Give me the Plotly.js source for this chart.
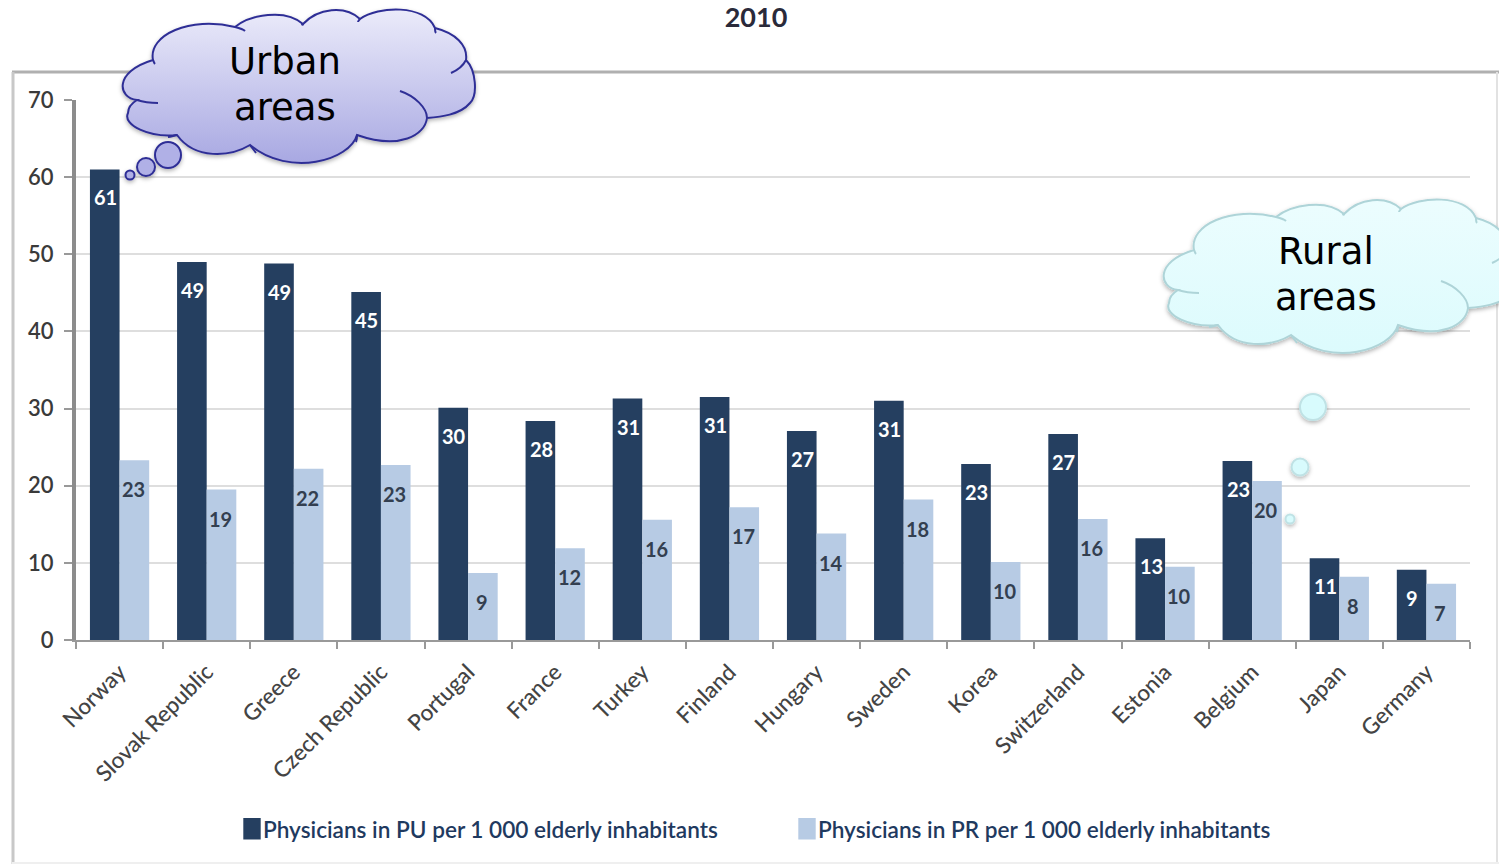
<!DOCTYPE html>
<html><head><meta charset="utf-8">
<script src="https://cdn.plot.ly/plotly-3.0.1.min.js"></script>
<style>html,body{margin:0;padding:0;background:#fff;overflow:hidden}#c{width:1499px;height:864px}</style>
</head><body><div id="c"></div>
<script>
var countries=["Norway","Slovak Republic","Greece","Czech Republic","Portugal","France","Turkey","Finland","Hungary","Sweden","Korea","Switzerland","Estonia","Belgium","Japan","Germany"];
var urbanValues=[61,49,48.8,45.1,30.1,28.4,31.3,31.5,27.1,31,22.8,26.7,13.2,23.2,10.6,9.1];
var ruralValues=[23.3,19.5,22.2,22.7,8.7,11.9,15.6,17.2,13.8,18.2,10.1,15.7,9.5,20.6,8.2,7.3];
var urbanLabels=["61","49","49","45","30","28","31","31","27","31","23","27","13","23","11","9"];
var ruralLabels=["23","19","22","23","9","12","16","17","14","18","10","16","10","20","8","7"];
var urbanName="Physicians in PU per 1 000 elderly inhabitants";
var ruralName="Physicians in PR per 1 000 elderly inhabitants";
var yTicks=[0,10,20,30,40,50,60,70];

var W=1499,H=864,L=76,R=1470,T=100,B=640;
function px(x){return (x-L)/(R-L);}
function py(y){return (B-y)/(B-T);}
var sans="Lato, 'Open Sans', sans-serif";
var cloudPath="M153 60C148 35 190 16 235 27C250 15 285 8 303 24C318 8 345 5 360 19C378 6 425 4 435 28C455 33 468 45 466 60C476 70 478 95 470 103C460 115 440 117 427 118C425 135 400 150 357 135C350 160 290 178 250 145C230 157 195 160 177 135C150 138 122 125 128 113C128 108 132 103 137 100C118 98 113 72 153 60Z";
var folds="M153 60C154 62 154 63 155 64M137 100C143 102 150 103 158 103M177 135C173 136 170 137 168 137M235 27C239 28 243 29 245 31M303 24C303 25 302 25 302 24M360 19C359 20 358 21 358 22M435 28C435 30 435 32 436 33M466 60C463 66 458 70 451 73M400 91C415 96 427 108 427 118M357 135C357 138 357 140 356 142M250 145C252 148 254 150 256 153";
function cloud(id,c1,c2,stroke,sw,bubbles){
  return 'data:image/svg+xml;utf8,'+encodeURIComponent('<svg xmlns="http://www.w3.org/2000/svg" width="500" height="340" viewBox="0 0 500 340"><defs><linearGradient id="'+id+'" x1="0" y1="0" x2="0" y2="1"><stop offset="0" stop-color="'+c1+'"/><stop offset="1" stop-color="'+c2+'"/></linearGradient><filter id="s" x="-10%" y="-10%" width="120%" height="125%"><feDropShadow dx="0" dy="2" stdDeviation="2" flood-color="#000" flood-opacity="0.3"/></filter></defs><g filter="url(#s)"><path d="'+cloudPath+'" fill="url(#'+id+')" stroke="'+stroke+'" stroke-width="'+sw+'"/>'+bubbles+'</g><path d="'+folds+'" fill="none" stroke="'+stroke+'" stroke-width="'+sw+'"/></svg>');
}
function circ(cx,cy,r,f,s){return '<circle cx="'+cx+'" cy="'+cy+'" r="'+r+'" fill="'+f+'" stroke="'+s+'" stroke-width="2"/>';}
var urbanBubbles=circ(168,155,13,'#b0b0e6','#2f2f96')+circ(146,167,9,'#b0b0e6','#2f2f96')+circ(130,175,4.5,'#b0b0e6','#2f2f96');
var ruralBubbles=circ(272,217,13,'#d8fbfd','#bfe2e5')+circ(259,277,8.5,'#d8fbfd','#bfe2e5')+circ(249,329,4.5,'#d8fbfd','#bfe2e5');
var urbanSrc=cloud('u','#ebebfa','#a8a8e2','#2f2f96',2,urbanBubbles);
var ruralSrc=cloud('r','#ecfdfe','#dcfbfd','#aed4d8',2,ruralBubbles);
function frame(x0,y0,x1,y1,color,w){return {type:'line',xref:'paper',yref:'paper',x0:px(x0),x1:px(x1),y0:py(y0),y1:py(y1),line:{color:color,width:w},layer:'below'};}
function ann(x,y,t,shift,yshift,color){return {x:x,y:y,text:t,xref:'x',yref:'y',showarrow:false,xshift:shift,yshift:yshift,font:{family:sans,size:20,color:color,weight:700}};}
var anns=[];
countries.forEach(function(c,i){
  anns.push(ann(c,urbanValues[i],urbanLabels[i],-14,-28,'#ffffff'));
  anns.push(ann(c,ruralValues[i],ruralLabels[i],14,-29,'#333f50'));
});
function pageText(x,y,t,size,color,weight,family){return {xref:'paper',yref:'paper',x:px(x),y:py(y),text:t,showarrow:false,xanchor:'center',yanchor:'middle',font:{family:family,size:size,color:color,weight:weight}};}
anns.push(pageText(285,62,'Urban',37,'#000','400',"'DejaVu Sans'"));
anns.push(pageText(285,107,'areas',37,'#000','400',"'DejaVu Sans'"));
anns.push(pageText(1326,252,'Rural',37,'#000','400',"'DejaVu Sans'"));
anns.push(pageText(1326,297,'areas',37,'#000','400',"'DejaVu Sans'"));

var layout={
  width:W,height:H,paper_bgcolor:'#fff',plot_bgcolor:'#fff',
  margin:{l:L,r:W-R,t:T,b:H-B,pad:0},
  title:{text:'2010',xref:'container',yref:'container',x:756/W,y:1-18/H,xanchor:'center',yanchor:'middle',font:{family:sans,size:27,color:'#2a2a3a',weight:700},automargin:false},
  barmode:'group',bargap:0.32,bargroupgap:0,
  showlegend:true,
  legend:{orientation:'h',x:px(223),y:py(829),xanchor:'left',yanchor:'middle',entrywidth:510,entrywidthmode:'pixels',font:{family:sans,size:22.6,color:'#1f3a5f',weight:600},bgcolor:'rgba(0,0,0,0)'},
  xaxis:{type:'category',categoryorder:'array',categoryarray:countries,tickangle:-45,ticks:'outside',ticklen:7,tickwidth:1.5,tickcolor:'#999',showline:true,linecolor:'#999',linewidth:2,tickson:'boundaries',ticklabelstandoff:8,tickfont:{family:sans,size:22.5,color:'#444',weight:500},showgrid:false,automargin:false},
  yaxis:{range:[0,70],tickvals:yTicks,ticktext:yTicks.map(String),ticks:'outside',ticklen:8,tickwidth:1.5,tickcolor:'#999',showline:true,linecolor:'#8c8c8c',linewidth:4,gridcolor:'#dedede',gridwidth:2,zeroline:false,ticklabelstandoff:6,tickfont:{family:sans,size:22,color:'#3a3a3a',weight:600},automargin:false},
  shapes:[
    frame(12,72,1499,72,'#b0b0b0',3),
    frame(13,72,13,864,'#c8c8c8',3),
    frame(1497,72,1497,864,'#e2e2e2',2),
    frame(12,863,1499,863,'#efefef',2)
  ],
  images:[
    {source:urbanSrc,xref:'paper',yref:'paper',x:px(0),y:py(0),sizex:500/(R-L),sizey:340/(B-T),xanchor:'left',yanchor:'top',sizing:'stretch',layer:'above'},
    {source:ruralSrc,xref:'paper',yref:'paper',x:px(1041),y:py(190),sizex:500/(R-L),sizey:340/(B-T),xanchor:'left',yanchor:'top',sizing:'stretch',layer:'above'}
  ],
  annotations:anns
};
var traces=[
  {type:'bar',name:urbanName,x:countries,y:urbanValues,marker:{color:'#253f60'},hoverinfo:'x+y'},
  {type:'bar',name:ruralName,x:countries,y:ruralValues,marker:{color:'#b7cbe4'},hoverinfo:'x+y'}
];
Plotly.newPlot('c',traces,layout,{displayModeBar:false,responsive:false}).then(function(){
  document.querySelectorAll('.legendpoints path').forEach(function(p){
    p.setAttribute('transform','translate(29,0) scale(1.45,1.8)');
  });
});
</script></body></html>
